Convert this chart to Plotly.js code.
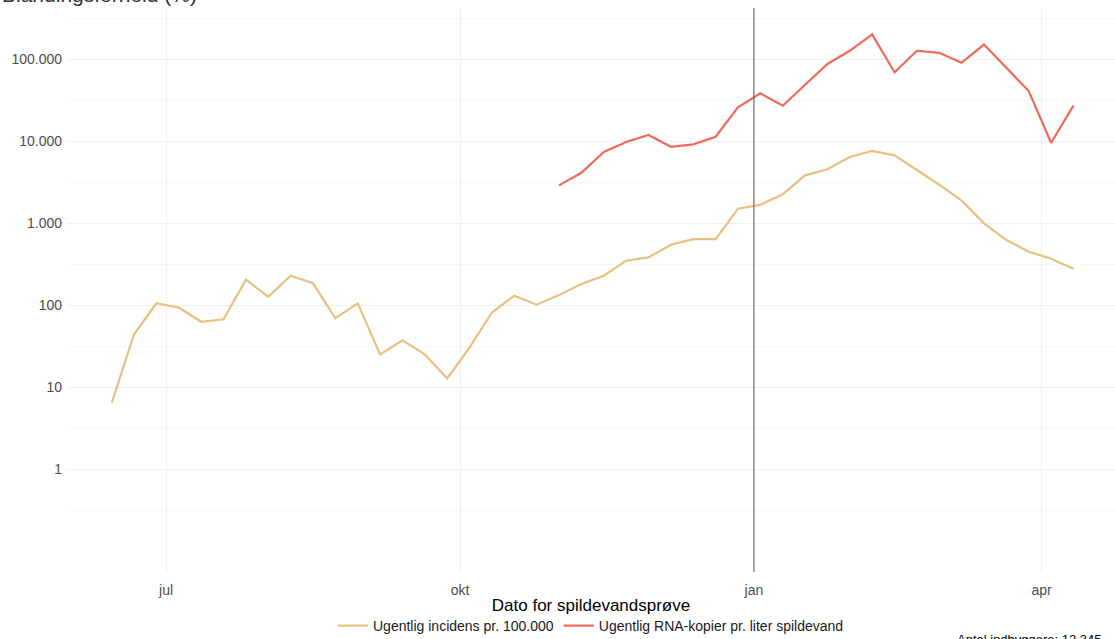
<!DOCTYPE html>
<html>
<head>
<meta charset="utf-8">
<script src="https://cdn.plot.ly/plotly-3.0.1.min.js"></script>
<style>html,body{margin:0;padding:0;background:#fff;}#chart{width:1115px;height:639px;}</style>
</head>
<body>
<div id="chart"></div>
<script>
// Weekly dates (Mondays), starting 2021-06-14
const startDate = '2021-06-14';
const incidensValues = [6.4, 44, 105, 93, 62.5, 67, 204, 126, 228, 184, 69, 105, 25, 37, 25, 12.7,
  30.5, 81, 130, 101, 132, 180, 228, 347, 380, 543, 635, 635, 1495, 1665, 2236, 3810, 4520, 6380,
  7580, 6690, 4430, 2930, 1870, 991, 620, 447, 367, 277];
const rnaStartIndex = 20;
const rnaValues = [2880, 4100, 7340, 9720, 11840, 8510, 9110, 11270, 25800, 38200, 26900, 48500,
  86900, 126000, 200000, 68800, 126000, 119000, 90100, 150000, 77000, 40700, 9520, 27000];
const seriesNames = ['Ugentlig incidens pr. 100.000', 'Ugentlig RNA-kopier pr. liter spildevand'];
const xTickVals = ['2021-07-01', '2021-10-01', '2022-01-01', '2022-04-01'];
const xTickText = ['jul', 'okt', 'jan', 'apr'];
const yTickVals = [1, 10, 100, 1000, 10000, 100000];
const yTickText = ['1', '10', '100', '1.000', '10.000', '100.000'];
const vlineDate = '2022-01-01';

function weekDates(n) {
  const out = [];
  const d0 = new Date(startDate + 'T00:00:00Z');
  for (let i = 0; i < n; i++) {
    const d = new Date(d0.getTime() + i * 7 * 86400000);
    out.push(d.toISOString().slice(0, 10));
  }
  return out;
}
const allDates = weekDates(incidensValues.length);
const rnaDates = allDates.slice(rnaStartIndex, rnaStartIndex + rnaValues.length);

const minorVals = [];
for (let e = -2; e <= 6; e++) minorVals.push(Math.pow(10, e + 0.5));

const traces = [
  {x: allDates, y: incidensValues, type: 'scatter', mode: 'lines', name: seriesNames[0],
   line: {color: '#E8C07F', width: 2.2}},
  {x: rnaDates, y: rnaValues, type: 'scatter', mode: 'lines', name: seriesNames[1],
   line: {color: '#EE6A5A', width: 2.2}}
];

const layout = {
  width: 1115, height: 639,
  margin: {l: 67, r: 0, t: 8, b: 67, autoexpand: false},
  paper_bgcolor: '#ffffff', plot_bgcolor: '#ffffff',
  font: {family: 'Liberation Sans, Arial, sans-serif', color: '#4d4d4d', size: 14},
  showlegend: true,
  legend: {orientation: 'h', x: 0.5, xanchor: 'center', y: -(626 - 572) / 564, yanchor: 'middle',
    font: {size: 14, color: '#1a1a1a'}, itemwidth: 30, tracegroupgap: 0},
  xaxis: {
    type: 'date', range: ['2021-05-31', '2022-04-24'],
    tickmode: 'array', tickvals: xTickVals, ticktext: xTickText,
    showgrid: true, gridcolor: '#f0f0f0', gridwidth: 1,
    zeroline: false, showline: false, ticks: '', ticklabelstandoff: 8,
    tickfont: {size: 14, color: '#4d4d4d'},
    title: {text: 'Dato for spildevandsprøve', font: {size: 17, color: '#000000'}, standoff: 2}
  },
  yaxis: {
    type: 'log', range: [-1.256, 5.622],
    tickmode: 'array', tickvals: yTickVals, ticktext: yTickText,
    showgrid: true, gridcolor: '#f0f0f0', gridwidth: 1,
    minor: {tickmode: 'array', tickvals: minorVals, showgrid: true, gridcolor: '#f7f7f7', gridwidth: 1, ticks: ''},
    zeroline: false, showline: false, ticks: '', ticklabelstandoff: 4,
    tickfont: {size: 14, color: '#4d4d4d'}
  },
  shapes: [
    {type: 'line', xref: 'x', yref: 'paper', x0: vlineDate, x1: vlineDate, y0: 0, y1: 1,
     line: {color: '#555555', width: 1}}
  ],
  annotations: [
    {text: 'Blandingsforhold (%)', xref: 'paper', yref: 'paper', x: -67/1048, xanchor: 'left',
     y: (572 - 8) / 564, yanchor: 'bottom', showarrow: false,
     font: {size: 21, color: '#333333'}},
    {text: 'Antal indbyggere: 12.345', xref: 'paper', yref: 'paper', x: (955 - 67) / 1048, xanchor: 'left',
     y: -(630 - 572) / 564, yanchor: 'top', showarrow: false,
     font: {size: 13, color: '#000000'}}
  ]
};

Plotly.newPlot('chart', traces, layout, {staticPlot: true, displayModeBar: false});
</script>
</body>
</html>
